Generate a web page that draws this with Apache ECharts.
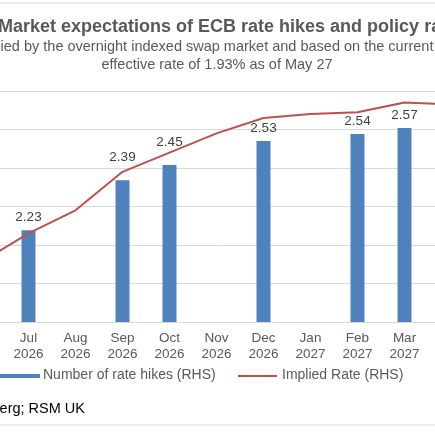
<!DOCTYPE html>
<html>
<head>
<meta charset="utf-8">
<script src="https://cdn.jsdelivr.net/npm/echarts@6/dist/echarts.min.js"></script>
<style>html,body{margin:0;padding:0;background:#fff;overflow:hidden;width:435px;height:435px;position:relative}
#chart{width:519px;height:435px;position:absolute;left:-42px;top:0}</style>
</head>
<body>
<div id="chart"></div>
<script>
// months (Jun 2026 and Apr 2027 sit just off the cropped edges)
var months = ['Jun\n2026','Jul\n2026','Aug\n2026','Sep\n2026','Oct\n2026','Nov\n2026','Dec\n2026','Jan\n2027','Feb\n2027','Mar\n2027','Apr\n2027'];
var rateHikes = [null, 1.19, null, 1.84, 2.04, null, 2.35, null, 2.44, 2.52, null];
var hikeLabels = [null, '2.23', null, '2.39', '2.45', null, '2.53', null, '2.54', '2.57', null];
var impliedRate = [2.156, 2.23, 2.29, 2.39, 2.44, 2.49, 2.53, 2.54, 2.545, 2.57, 2.565];
var rateTicks = [2.0, 2.6, 0.1];   // min, max, step (left)
var hikeTicks = [0, 3, 0.5];       // min, max, step (right, hidden)

var grey = '#595959';
var barData = rateHikes.map(function (v, i) {
  var extra = (i == 3 || i == 4) ? -10 : 0;
  return {value: v, label: {offset: [0, extra]}};
});

var chart = echarts.init(document.getElementById('chart'));
chart.setOption({
  animation: false,
  grid: {left: 0, right: 2, top: 91, bottom: 113},
  xAxis: {
    type: 'category', data: months,
    axisLine: {lineStyle: {color: '#d9d9d9'}}, axisTick: {show: false},
    axisLabel: {color: grey, fontSize: 13.5, lineHeight: 16, margin: 8, interval: 0}
  },
  yAxis: [
    {type: 'value', min: rateTicks[0], max: rateTicks[1], interval: rateTicks[2],
     axisLabel: {show: false}, axisLine: {show: false}, axisTick: {show: false},
     splitLine: {lineStyle: {color: '#d9d9d9', width: 1}}},
    {type: 'value', min: hikeTicks[0], max: hikeTicks[1], interval: hikeTicks[2],
     show: false, splitLine: {show: false}}
  ],
  series: [
    {name: 'Number of rate hikes (RHS)', type: 'bar', yAxisIndex: 1, data: barData,
     barWidth: 14, itemStyle: {color: '#4f81bd'},
     label: {show: true, position: 'top', distance: 6, color: '#404040', fontSize: 13.5,
       formatter: function (p) { return hikeLabels[p.dataIndex]; }}},
    {name: 'Implied Rate (RHS)', type: 'line', yAxisIndex: 0, data: impliedRate,
     symbol: 'none', lineStyle: {color: '#c0504d', width: 2}, z: 3}
  ],
  graphic: [{
    type: 'group', x: 42, y: 0,
    children: [
      {type: 'line', shape: {x1: 0, y1: 3, x2: 435, y2: 3}, style: {stroke: '#d9d9d9', lineWidth: 1}},
      {type: 'line', shape: {x1: 0, y1: 425, x2: 435, y2: 425}, style: {stroke: '#d9d9d9', lineWidth: 1}},
      {type: 'text', x: -2, y: 18, style: {text: 'Market expectations of ECB rate hikes and policy rates', fill: grey, font: 'bold 18px "Liberation Sans", Arial'}},
      {type: 'text', x: -26, y: 39, style: {text: 'implied by the overnight indexed swap market and based on the current', fill: grey, font: '14.5px "Liberation Sans", Arial'}},
      {type: 'text', x: 217, y: 57, style: {text: 'effective rate of 1.93% as of May 27', fill: grey, font: '14.5px "Liberation Sans", Arial', align: 'center'}},
      {type: 'rect', shape: {x: 0, y: 374, width: 40, height: 4}, style: {fill: '#4f81bd'}},
      {type: 'text', x: 43, y: 368, style: {text: 'Number of rate hikes (RHS)', fill: grey, font: '14px "Liberation Sans", Arial'}},
      {type: 'line', shape: {x1: 238, y1: 376, x2: 277, y2: 376}, style: {stroke: '#c0504d', lineWidth: 2}},
      {type: 'text', x: 282, y: 368, style: {text: 'Implied Rate (RHS)', fill: grey, font: '14px "Liberation Sans", Arial'}},
      {type: 'text', x: 85, y: 401, style: {text: 'Source: Bloomberg; RSM UK', fill: '#000', font: '14.5px "Liberation Sans", Arial', align: 'right'}}
    ]
  }]
});
</script>
</body>
</html>
